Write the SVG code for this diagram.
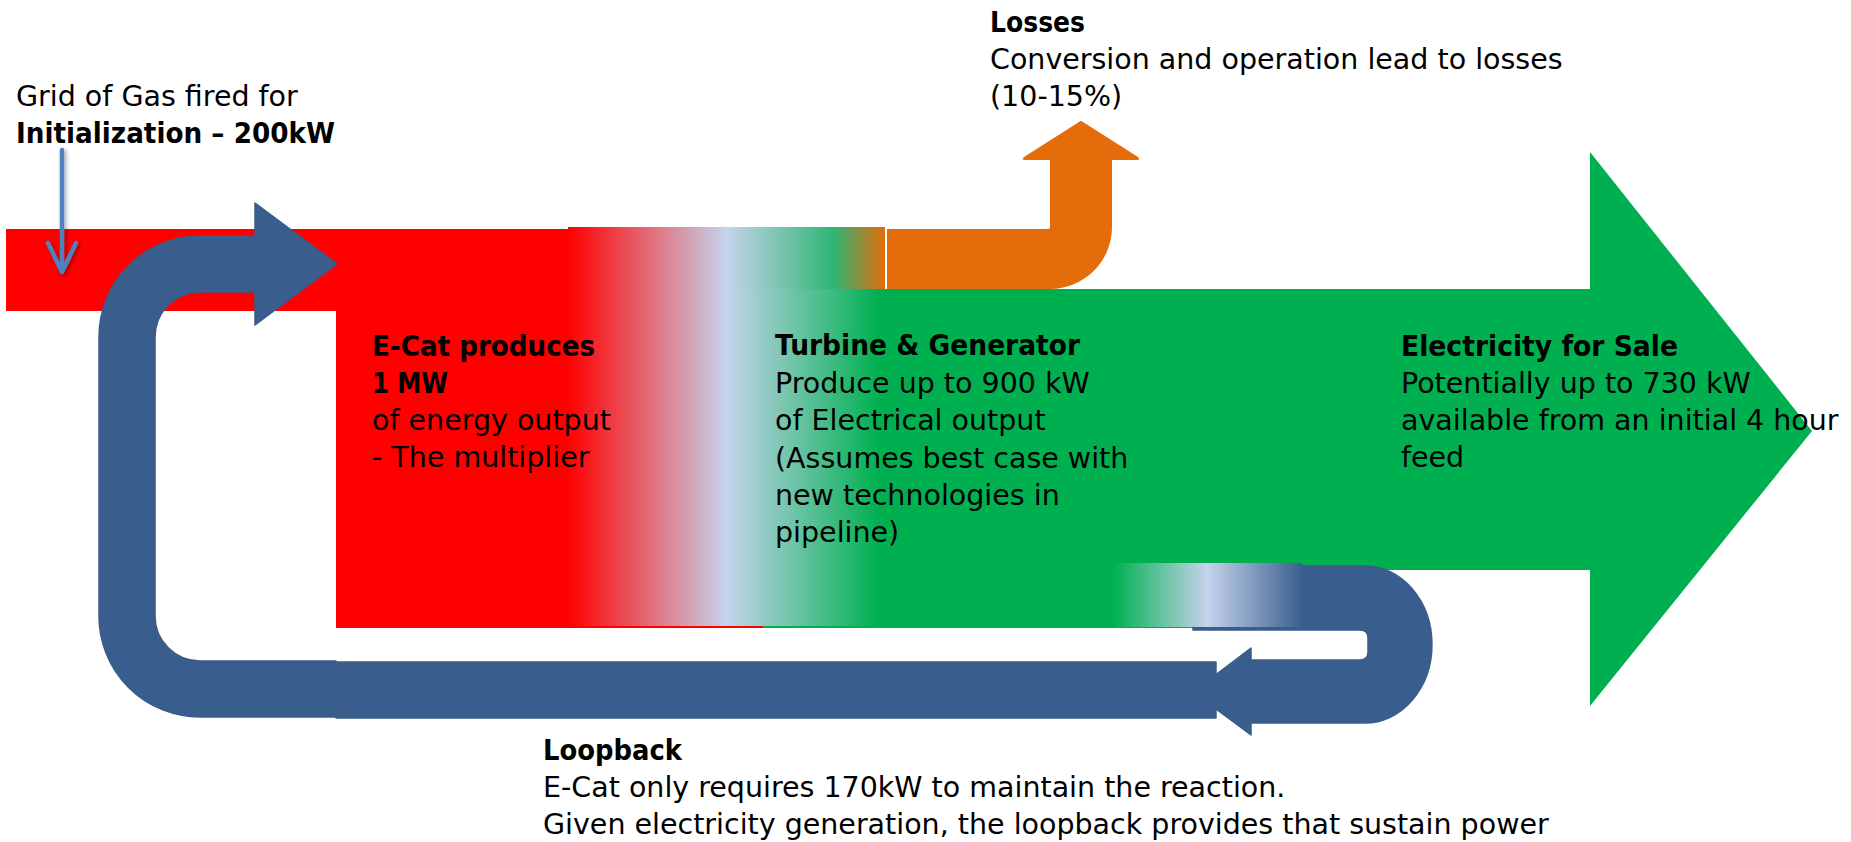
<svg xmlns="http://www.w3.org/2000/svg" width="1851" height="842" viewBox="0 0 1851 842">
  <style>
    text { font-family: "DejaVu Sans", Verdana, sans-serif; font-size: 28.5px; fill: #000; }
    .b { font-weight: bold; }
    .red { fill: #FF0000; }
    .green { fill: #00B050; }
    .orange { fill: #E46C0A; }
    .loop { fill: #395E8D; stroke: #3A5C88; stroke-width: 1.5; stroke-linejoin: round; }
  </style>
  <defs>
    <linearGradient id="gTop" x1="568" y1="0" x2="885" y2="0" gradientUnits="userSpaceOnUse">
      <stop offset="0" stop-color="#FF0000"/>
      <stop offset="0.5" stop-color="#C5D3EC"/>
      <stop offset="0.84" stop-color="#2EB573"/>
      <stop offset="1" stop-color="#E46C0A"/>
    </linearGradient>
    <linearGradient id="gMain" x1="568" y1="0" x2="885" y2="0" gradientUnits="userSpaceOnUse">
      <stop offset="0" stop-color="#FF0000"/>
      <stop offset="0.5" stop-color="#C5D3EC"/>
      <stop offset="0.98" stop-color="#00B050"/>
      <stop offset="1" stop-color="#00B050"/>
    </linearGradient>
    <linearGradient id="gLoop" x1="1113" y1="0" x2="1302" y2="0" gradientUnits="userSpaceOnUse">
      <stop offset="0" stop-color="#00B050"/>
      <stop offset="0.5" stop-color="#C5D3EC"/>
      <stop offset="1" stop-color="#3A5F8E"/>
    </linearGradient>
    <filter id="shadow" x="-50%" y="-20%" width="200%" height="140%">
      <feDropShadow dx="2" dy="2" stdDeviation="2" flood-color="#000" flood-opacity="0.35"/>
    </filter>
  </defs>

  <!-- E-Cat reactor stage -->
  <g id="ecat">
    <rect class="red" x="6" y="229" width="570" height="82"/>
    <rect class="red" x="336" y="300" width="427" height="328"/>
  </g>

  <!-- Electricity output arrow -->
  <g id="electricity">
    <polygon class="green" points="763,289 1590,289 1590,152 1812,431 1590,706 1590,570 1193,570 1193,628 763,628"/>
  </g>

  <!-- Turbine and generator blend -->
  <g id="turbine">
    <rect x="568" y="227" width="317" height="62" fill="url(#gTop)"/>
    <rect x="568" y="289" width="317" height="337" fill="url(#gMain)"/>
  </g>

  <!-- Flow connectors -->
  <g id="connectors">
    <!-- initial feed -->
    <g filter="url(#shadow)" stroke="#4F81BD" stroke-width="4.5" fill="none" stroke-linecap="round" stroke-linejoin="round">
      <line x1="62" y1="150" x2="62" y2="271"/>
      <polyline points="48,243 62,272 76,243"/>
    </g>
    <!-- losses branch -->
    <path class="orange" d="M887,229 H1048 Q1050,229 1050,227 V160 H1025 Q1021,160 1024,157 L1079,122 Q1081,120 1083,122 L1138,157 Q1141,160 1137,160 H1112 V227 A62,62 0 0 1 1050,289 H887 Z"/>
    <!-- loopback return path -->
    <rect class="loop" x="336" y="662" width="880" height="56" stroke="none"/>
    <path class="loop" d="M1193,566 H1365 A67,78.5 0 0 1 1365,723 H1251 V735 L1193,692 L1251,648 V660 H1360 Q1368,660 1368,652 V638 Q1368,630 1360,630 H1193 Z"/>
    <rect x="1113" y="563" width="189" height="64" fill="url(#gLoop)"/>
    <path class="loop" d="M336,717 H200 A101,101 0 0 1 99,616 V337 A101,101 0 0 1 200,236 H255 V203 L337,264 L255,325 V292 H200 A45,45 0 0 0 155,337 V616 A45,45 0 0 0 200,661 H336 Z"/>
  </g>

  <!-- Labels -->
  <g id="grid-input">
    <text x="16" y="106">Grid of Gas fired for</text>
    <text x="16" y="143" class="b" textLength="319" lengthAdjust="spacingAndGlyphs">Initialization – 200kW</text>
  </g>

  <g id="ecat-label">
    <text x="372" y="356" class="b" textLength="223" lengthAdjust="spacingAndGlyphs">E-Cat produces</text>
    <text x="372" y="393" class="b" textLength="76" lengthAdjust="spacingAndGlyphs">1 MW</text>
    <text x="372" y="430">of energy output</text>
    <text x="372" y="467">- The multiplier</text>
  </g>

  <g id="turbine-label">
    <text x="775" y="355" class="b" textLength="305" lengthAdjust="spacingAndGlyphs">Turbine &amp; Generator</text>
    <text x="775" y="393">Produce up to 900 kW</text>
    <text x="775" y="430">of Electrical output</text>
    <text x="775" y="468">(Assumes best case with</text>
    <text x="775" y="505">new technologies in</text>
    <text x="775" y="542">pipeline)</text>
  </g>

  <g id="electricity-label">
    <text x="1401" y="356" class="b" textLength="277" lengthAdjust="spacingAndGlyphs">Electricity for Sale</text>
    <text x="1401" y="393">Potentially up to 730 kW</text>
    <text x="1401" y="430">available from an initial 4 hour</text>
    <text x="1401" y="467">feed</text>
  </g>

  <g id="losses">
    <text x="990" y="32" class="b" textLength="95" lengthAdjust="spacingAndGlyphs">Losses</text>
    <text x="990" y="69">Conversion and operation lead to losses</text>
    <text x="990" y="106">(10-15%)</text>
  </g>

  <g id="loopback">
    <text x="543" y="760" class="b" textLength="139" lengthAdjust="spacingAndGlyphs">Loopback</text>
    <text x="543" y="797">E-Cat only requires 170kW to maintain the reaction.</text>
    <text x="543" y="834">Given electricity generation, the loopback provides that sustain power</text>
  </g>
</svg>
